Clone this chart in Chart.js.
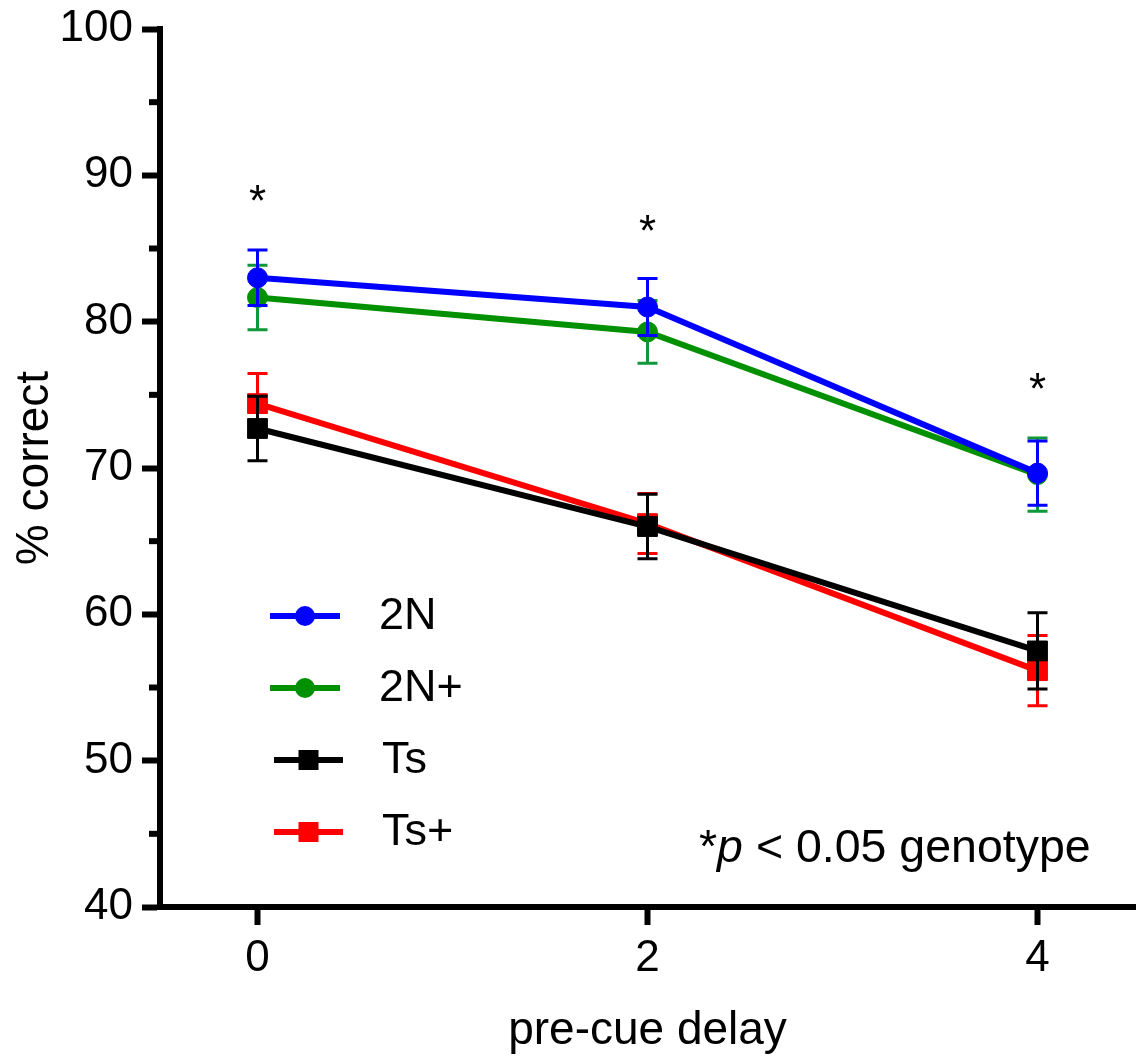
<!DOCTYPE html>
<html>
<head>
<meta charset="utf-8">
<script src="https://cdn.jsdelivr.net/npm/chart.js@4.4.1/dist/chart.umd.min.js"></script>
<style>
  html, body { margin: 0; padding: 0; background: #fff; }
  canvas { display: block; }
</style>
</head>
<body>
<canvas id="delayChart" width="1139" height="1061"></canvas>
<script>
// pre-cue delay (x) and % correct (y)
const delays = [0, 2, 4];
const yMajorTicks = [40, 50, 60, 70, 80, 90, 100];
const yMinorTicks = [45, 55, 65, 75, 85, 95];

const seriesNames = ['2N', '2N+', 'Ts', 'Ts+'];
const mean2N = [83.0, 81.0, 69.65];
const sem2N = [1.9, 1.95, 2.2];
const mean2NPlus = [81.65, 79.3, 69.55];
const sem2NPlus = [2.2, 2.15, 2.5];
const meanTs = [72.7, 66.0, 57.5];
const semTs = [2.2, 2.2, 2.6];
const meanTsPlus = [74.4, 66.2, 56.15];
const semTsPlus = [2.05, 2.05, 2.4];

// height of the genotype asterisk above each delay
const starLevels = [88.65, 86.6, 75.8];

const FONT = "'Liberation Sans', Arial, Helvetica, sans-serif";
const BLUE = '#0000FF';
const GREEN = '#009000';
const GREEN_BAR = '#0F983A';
const BLACK = '#000000';
const RED = '#FF0000';

function toPoints(means) {
    return delays.map((d, i) => ({ x: d, y: means[i] }));
}

function makeSeries(label, means, sems, color, barColor, style, order) {
    return {
        label: label,
        data: toPoints(means),
        sem: sems,
        barColor: barColor,
        borderColor: color,
        backgroundColor: color,
        borderWidth: 6,
        pointStyle: style,
        pointRadius: style === 'circle' ? 10 : 14,
        pointBorderWidth: 1,
        pointBorderColor: color,
        pointBackgroundColor: color,
        tension: 0,
        order: order,
        clip: false
    };
}

// error bars (mean +/- SEM) drawn right after each series
const errorBars = {
    id: 'errorBars',
    afterDatasetDraw(chart, args) {
        const ds = chart.data.datasets[args.index];
        const xs = chart.scales.x, ys = chart.scales.y;
        const ctx = chart.ctx;
        ctx.save();
        ctx.strokeStyle = ds.barColor;
        ctx.lineWidth = 3;
        ds.data.forEach((p, i) => {
            const px = xs.getPixelForValue(p.x);
            const top = ys.getPixelForValue(p.y + ds.sem[i]);
            const bot = ys.getPixelForValue(p.y - ds.sem[i]);
            ctx.beginPath();
            ctx.moveTo(px, top); ctx.lineTo(px, bot);
            ctx.moveTo(px - 10, top); ctx.lineTo(px + 10, top);
            ctx.moveTo(px - 10, bot); ctx.lineTo(px + 10, bot);
            ctx.stroke();
        });
        ctx.restore();
    }
};

function drawMarker(ctx, style, x, y, color) {
    ctx.fillStyle = color;
    if (style === 'circle') {
        ctx.beginPath();
        ctx.arc(x, y, 10, 0, Math.PI * 2);
        ctx.fill();
    } else {
        ctx.fillRect(x - 10, y - 10, 20, 20);
    }
}

// minor ticks, legend, asterisks and the footnote
const extras = {
    id: 'extras',
    afterDraw(chart) {
        const ctx = chart.ctx;
        const xs = chart.scales.x, ys = chart.scales.y;
        const left = chart.chartArea.left;
        ctx.save();

        ctx.fillStyle = BLACK;
        yMinorTicks.forEach(v => {
            const py = ys.getPixelForValue(v);
            ctx.fillRect(left - 11, py - 3, 9, 6);
        });

        // legend
        seriesNames.forEach((name, i) => {
            const ds = chart.data.datasets.find(d => d.label === name);
            const rowY = 616 + i * 72;
            const square = ds.pointStyle !== 'circle';
            const x0 = square ? 274 : 270;
            const x1 = square ? 343 : 340;
            ctx.strokeStyle = ds.borderColor;
            ctx.lineWidth = 6;
            ctx.beginPath();
            ctx.moveTo(x0, rowY);
            ctx.lineTo(x1, rowY);
            ctx.stroke();
            drawMarker(ctx, ds.pointStyle, (x0 + x1) / 2, rowY, ds.borderColor);
            ctx.fillStyle = BLACK;
            ctx.font = '45px ' + FONT;
            ctx.textAlign = 'left';
            ctx.textBaseline = 'middle';
            ctx.fillText(name, square ? 382 : 379, rowY + 1);
        });

        // significance asterisks
        ctx.fillStyle = BLACK;
        ctx.font = '44px ' + FONT;
        ctx.textAlign = 'center';
        ctx.textBaseline = 'alphabetic';
        delays.forEach((d, i) => {
            ctx.fillText('*', xs.getPixelForValue(d), ys.getPixelForValue(starLevels[i]) + 21);
        });

        // footnote: *p < 0.05 genotype
        ctx.textAlign = 'left';
        let tx = 699;
        const ty = 862;
        const parts = [['*', ''], ['p', 'italic '], [' < 0.05 genotype', '']];
        parts.forEach(([txt, style]) => {
            ctx.font = style + '46.5px ' + FONT;
            ctx.fillText(txt, tx, ty);
            tx += ctx.measureText(txt).width;
        });

        ctx.restore();
    }
};

const ctx = document.getElementById('delayChart').getContext('2d');
new Chart(ctx, {
    type: 'line',
    data: {
        datasets: [
            makeSeries('2N', mean2N, sem2N, BLUE, BLUE, 'circle', 0),
            makeSeries('Ts', meanTs, semTs, BLACK, BLACK, 'rect', 1),
            makeSeries('2N+', mean2NPlus, sem2NPlus, GREEN, GREEN_BAR, 'circle', 2),
            makeSeries('Ts+', meanTsPlus, semTsPlus, RED, RED, 'rect', 3)
        ]
    },
    options: {
        responsive: false,
        animation: false,
        events: [],
        layout: { autoPadding: false, padding: { top: 29, right: 4, bottom: 0, left: 0 } },
        plugins: {
            legend: { display: false },
            tooltip: { enabled: false }
        },
        scales: {
            x: {
                type: 'linear',
                min: -0.5,
                max: 4.5,
                afterBuildTicks: scale => { scale.ticks = delays.map(v => ({ value: v })); },
                afterFit: scale => {
                    scale.height = 154;
                    scale.paddingLeft = 0;
                    scale.paddingRight = 0;
                },
                grid: {
                    drawOnChartArea: false,
                    drawTicks: true,
                    tickLength: 18,
                    tickWidth: 6,
                    tickColor: BLACK
                },
                border: { display: true, width: 6, color: BLACK },
                ticks: {
                    color: BLACK,
                    padding: 7,
                    font: { size: 44, family: FONT }
                },
                title: {
                    display: true,
                    text: 'pre-cue delay',
                    color: BLACK,
                    font: { size: 46, family: FONT },
                    padding: { top: 0, bottom: 2 }
                }
            },
            y: {
                min: 40,
                max: 100,
                afterBuildTicks: scale => { scale.ticks = yMajorTicks.map(v => ({ value: v })); },
                afterFit: scale => {
                    scale.width = 160;
                    scale.paddingTop = 0;
                    scale.paddingBottom = 0;
                },
                grid: {
                    drawOnChartArea: false,
                    drawTicks: true,
                    tickLength: 18,
                    tickWidth: 6,
                    tickColor: BLACK
                },
                border: { display: true, width: 6, color: BLACK },
                ticks: {
                    color: BLACK,
                    padding: 9,
                    font: { size: 44, family: FONT }
                },
                title: {
                    display: true,
                    text: '% correct',
                    color: BLACK,
                    font: { size: 46, family: FONT },
                    padding: { top: 8, bottom: 0 }
                }
            }
        }
    },
    plugins: [errorBars, extras]
});
</script>
</body>
</html>
